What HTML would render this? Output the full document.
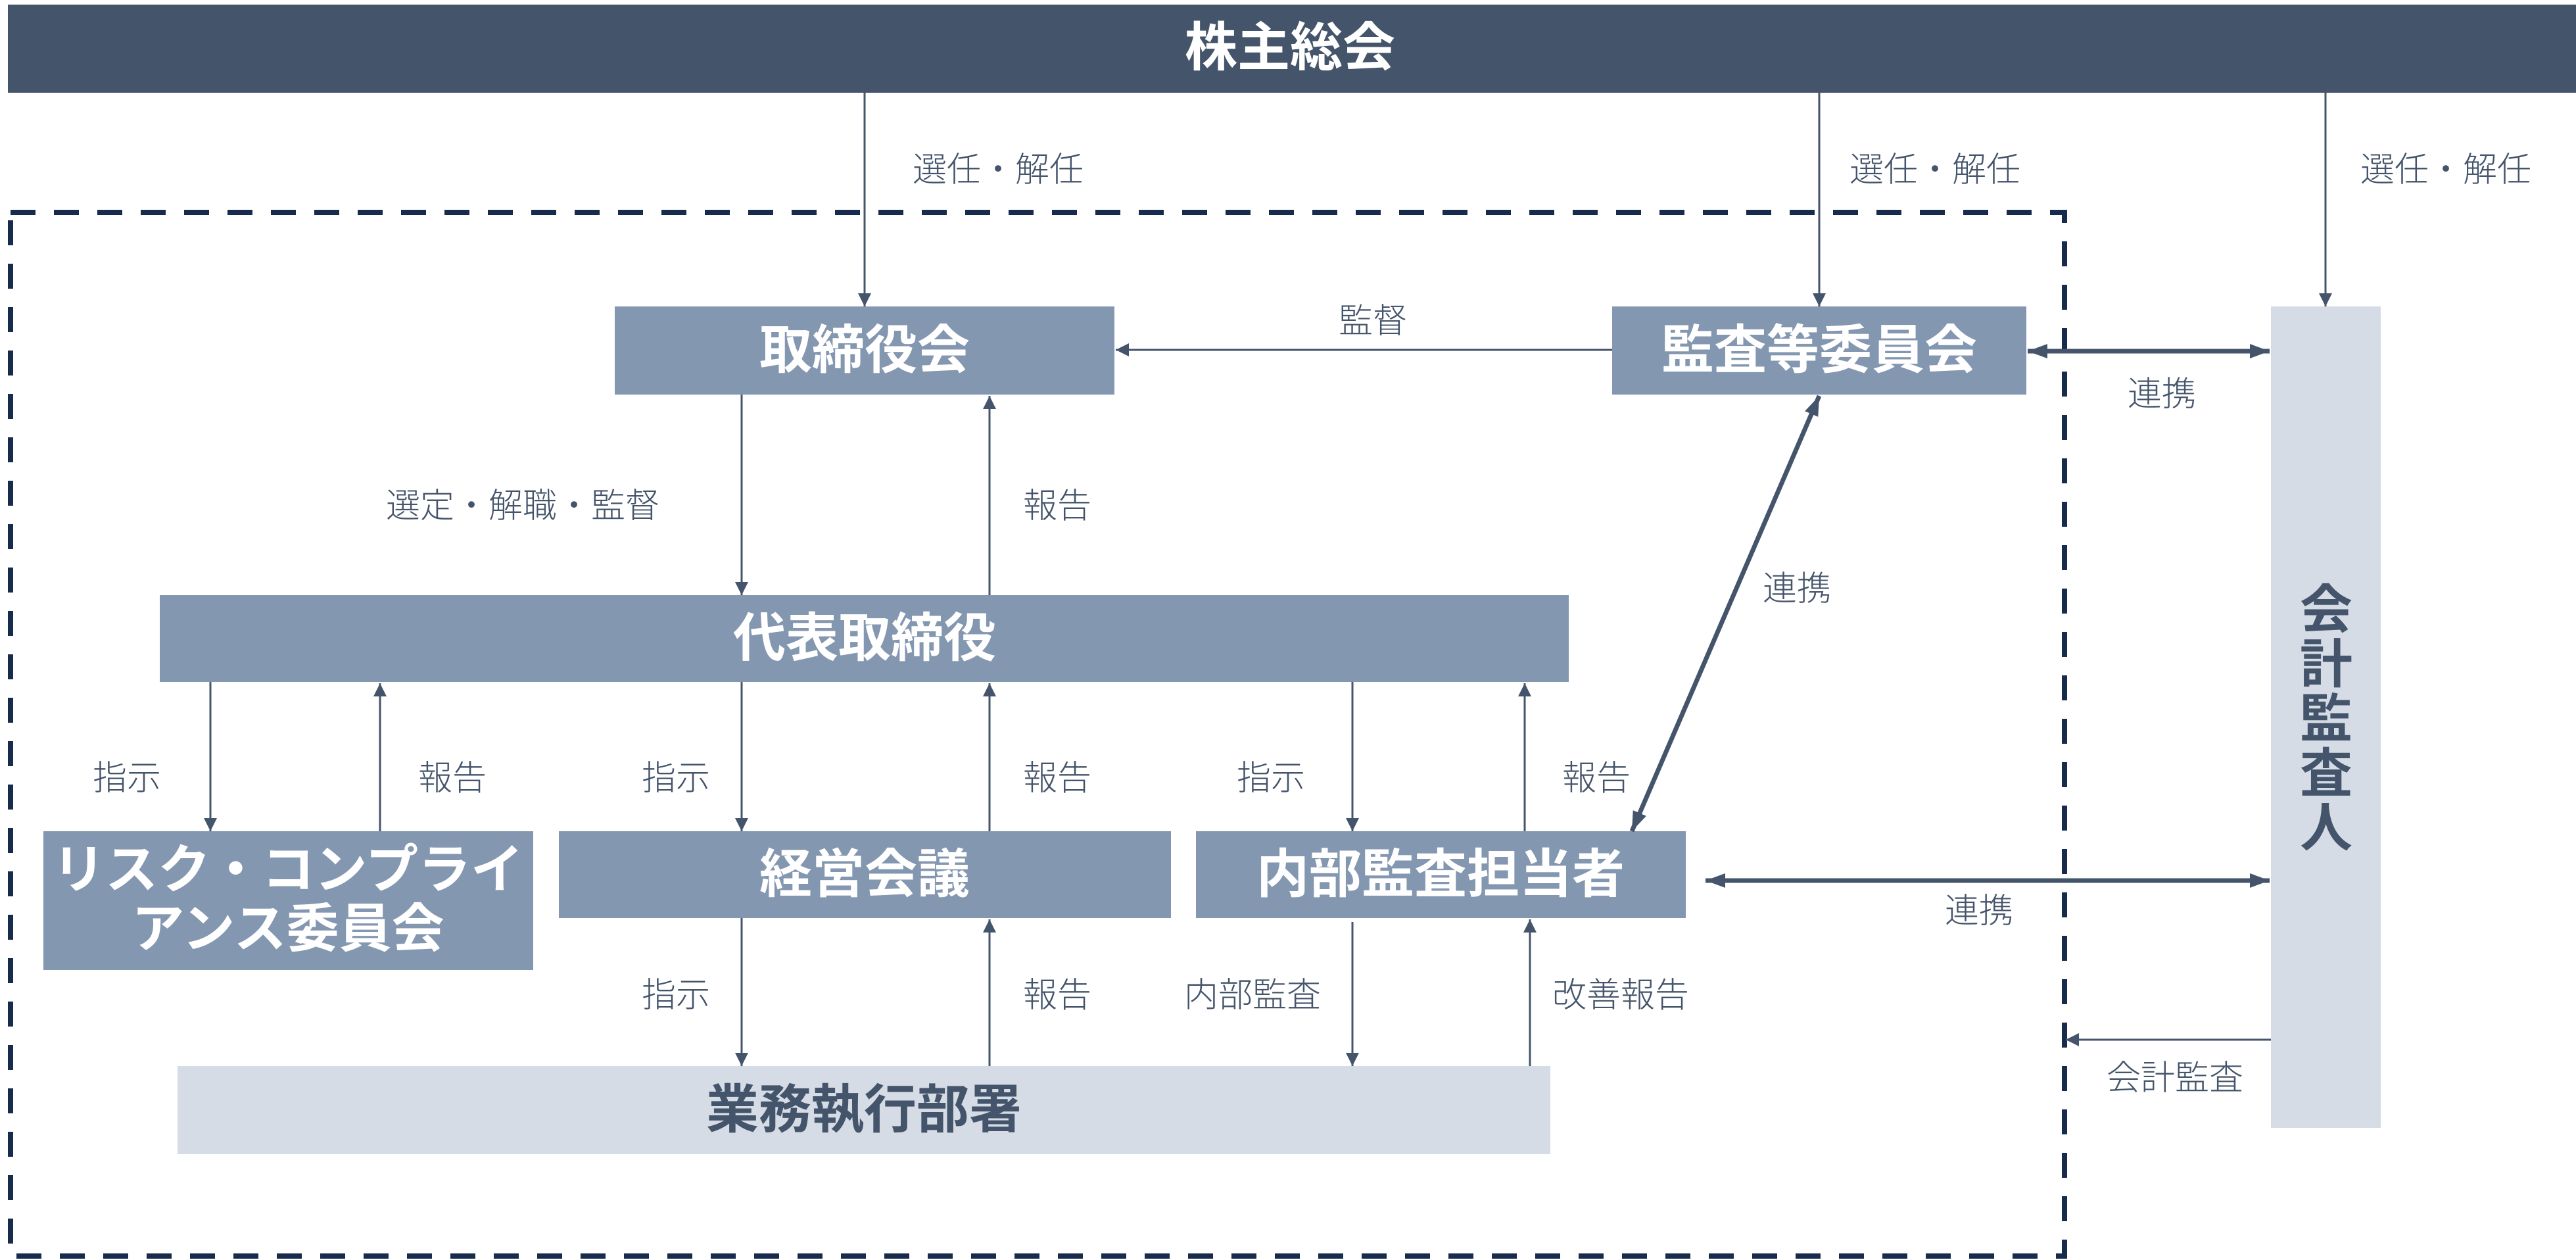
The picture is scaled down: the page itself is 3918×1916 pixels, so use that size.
<!DOCTYPE html>
<html><head><meta charset="utf-8"><style>
html,body{margin:0;padding:0;background:#fff;}
svg{display:block;}
text{font-family:"Liberation Sans","Noto Sans CJK JP",sans-serif;}
.b{font-weight:bold;fill:#fff;font-size:80px;}
.d{font-weight:bold;fill:#44546a;font-size:80px;}
.l{fill:#44546a;font-size:52px;font-weight:300;}
</style></head><body>
<svg width="3918" height="1916" viewBox="0 0 3918 1916" xmlns="http://www.w3.org/2000/svg">
<defs>
<marker id="a" viewBox="0 0 10 10" refX="10" refY="5" markerWidth="20" markerHeight="20" markerUnits="userSpaceOnUse" orient="auto-start-reverse" preserveAspectRatio="none">
<path d="M0,0 L10,5 L0,10 z" fill="#44546a"/></marker>
<marker id="t" viewBox="0 0 10 10" refX="10" refY="5" markerWidth="30" markerHeight="22" markerUnits="userSpaceOnUse" orient="auto-start-reverse" preserveAspectRatio="none">
<path d="M0,0 L10,5 L0,10 z" fill="#44546a"/></marker>
</defs>
<rect x="12" y="7" width="3906" height="134" fill="#44546a"/>
<text class="b" x="1962" y="100" text-anchor="middle">株主総会</text>
<rect x="16" y="323" width="3124" height="1587" fill="none" stroke="#172b4d" stroke-width="8" stroke-dasharray="38,28"/>
<rect x="935" y="466" width="760" height="134" fill="#8497b0"/>
<text class="b" x="1315" y="560" text-anchor="middle">取締役会</text>
<rect x="2452" y="466" width="630" height="134" fill="#8497b0"/>
<text class="b" x="2767" y="560" text-anchor="middle">監査等委員会</text>
<rect x="3454" y="466" width="167" height="1249" fill="#d6dce5"/>
<g class="d" text-anchor="middle">
<text x="3538" y="955">会</text><text x="3538" y="1038">計</text><text x="3538" y="1121">監</text><text x="3538" y="1204">査</text><text x="3538" y="1287">人</text>
</g>
<rect x="243" y="905" width="2143" height="132" fill="#8497b0"/>
<text class="b" x="1315" y="998" text-anchor="middle">代表取締役</text>
<rect x="66" y="1264" width="745" height="211" fill="#8497b0"/>
<text class="b" x="438" y="1350" text-anchor="middle">リスク・コンプライ</text>
<text class="b" x="438" y="1440" text-anchor="middle">アンス委員会</text>
<rect x="850" y="1264" width="931" height="132" fill="#8497b0"/>
<text class="b" x="1315" y="1357" text-anchor="middle">経営会議</text>
<rect x="1819" y="1264" width="745" height="132" fill="#8497b0"/>
<text class="b" x="2191" y="1357" text-anchor="middle">内部監査担当者</text>
<rect x="270" y="1621" width="2088" height="134" fill="#d6dce5"/>
<text class="d" x="1314" y="1715" text-anchor="middle">業務執行部署</text>
<g stroke="#44546a" stroke-width="3" fill="none" marker-end="url(#a)">
<line x1="1315" y1="141" x2="1315" y2="466"/>
<line x1="2767" y1="141" x2="2767" y2="466"/>
<line x1="3537" y1="141" x2="3537" y2="466"/>
<line x1="2452" y1="532" x2="1697" y2="532"/>
<line x1="1128" y1="600" x2="1128" y2="905"/>
<line x1="1505" y1="905" x2="1505" y2="602"/>
<line x1="320" y1="1037" x2="320" y2="1264"/>
<line x1="578" y1="1264" x2="578" y2="1039"/>
<line x1="1128" y1="1037" x2="1128" y2="1264"/>
<line x1="1505" y1="1264" x2="1505" y2="1039"/>
<line x1="2057" y1="1037" x2="2057" y2="1264"/>
<line x1="2319" y1="1264" x2="2319" y2="1039"/>
<line x1="1128" y1="1396" x2="1128" y2="1621"/>
<line x1="1505" y1="1621" x2="1505" y2="1398"/>
<line x1="2057" y1="1402" x2="2057" y2="1621"/>
<line x1="2327" y1="1621" x2="2327" y2="1398"/>
<line x1="3454" y1="1581" x2="3142" y2="1581"/>
</g>
<g stroke="#44546a" stroke-width="7" fill="none" marker-end="url(#t)" marker-start="url(#t)">
<line x1="3084" y1="534" x2="3452" y2="534"/>
<line x1="2767" y1="602" x2="2482" y2="1264"/>
<line x1="2594" y1="1339" x2="3452" y2="1339"/>
</g>
<g class="l" text-anchor="middle">
<text x="1518" y="276">選任・解任</text>
<text x="2943" y="276">選任・解任</text>
<text x="3720" y="276">選任・解任</text>
<text x="2088" y="506">監督</text>
<text x="3288" y="617">連携</text>
<text x="795" y="787">選定・解職・監督</text>
<text x="1608" y="787">報告</text>
<text x="2733" y="913">連携</text>
<text x="193" y="1201">指示</text>
<text x="688" y="1201">報告</text>
<text x="1028" y="1201">指示</text>
<text x="1608" y="1201">報告</text>
<text x="1933" y="1201">指示</text>
<text x="2428" y="1201">報告</text>
<text x="3010" y="1403">連携</text>
<text x="1028" y="1531">指示</text>
<text x="1608" y="1531">報告</text>
<text x="1905" y="1531">内部監査</text>
<text x="2465" y="1531">改善報告</text>
<text x="3308" y="1657">会計監査</text>
</g>
</svg>
</body></html>
